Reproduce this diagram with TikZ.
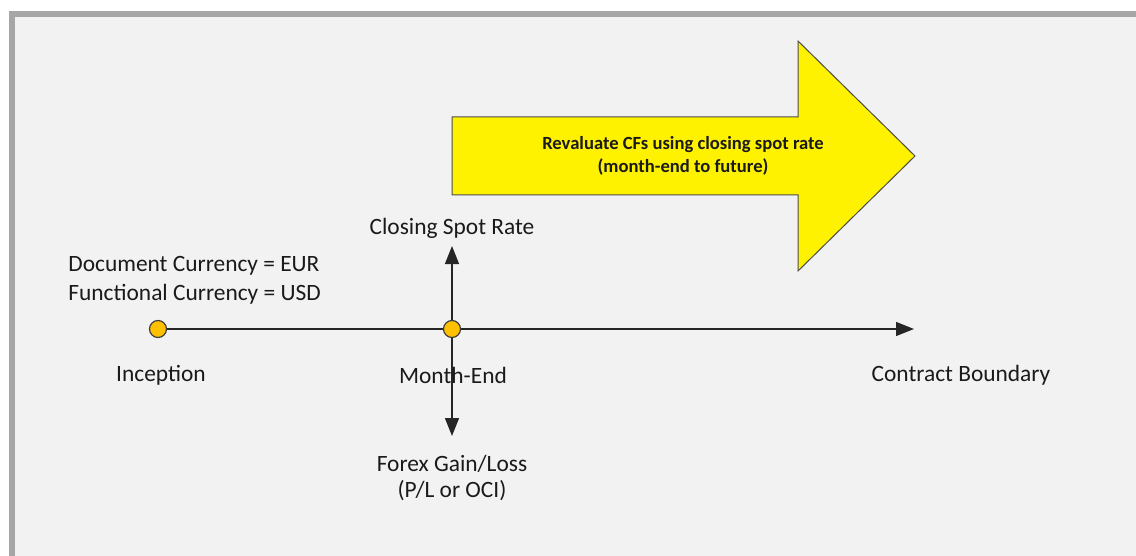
\documentclass[tikz,border=0pt]{standalone}
\usepackage{fontspec}
\setmainfont{Carlito}
\usetikzlibrary{arrows.meta}
\definecolor{framegray}{HTML}{A6A6A6}
\definecolor{panel}{HTML}{F2F2F2}
\definecolor{dotfill}{HTML}{FFC000}
\definecolor{txt}{HTML}{1A1A1A}
\tikzset{
  lbl/.style={font=\fontsize{11.7}{13}\selectfont, text=txt, inner sep=0pt},
  dot/.style={circle, draw=black!75, fill=dotfill, line width=0.6pt, minimum size=8.5pt, inner sep=0pt},
  conn/.style={line width=0.6pt, draw=black!85, -{Triangle[length=9pt,width=7pt]}},
  bigarrow/.style={draw=black!70, fill=yellow, line width=0.5pt, line join=miter}
}
\begin{document}
\begin{tikzpicture}[x=0.5pt,y=-0.5pt]
\useasboundingbox (0,0) rectangle (1136,556);
\fill[white] (0,0) rectangle (1136,556);
\filldraw[fill=panel, draw=framegray, line width=3pt] (11.5,14) rectangle (1150,570);
% big arrow
\draw[bigarrow] (452,117) -- (798,117) -- (798,41) -- (915,156) -- (798,271) -- (798,195) -- (452,195) -- cycle;
\node[font=\bfseries\fontsize{9.3}{11.5}\selectfont, align=center, inner sep=0pt, text=txt] (rev) at (683,156) {Revaluate CFs using closing spot rate\\(month-end to future)};
% timeline
\node[dot] (inc) at (158,329) {};
\node[dot] (me) at (452,329) {};
\coordinate (cb) at (914,329);
\coordinate (up) at (452,246);
\coordinate (down) at (452,436);
\draw[line width=0.6pt, draw=black!85] (inc) -- (me);
\draw[conn] (me) -- (cb);
\draw[conn] (me) -- (up);
\draw[conn] (me) -- (down);
% labels
\node[lbl] (csr) at (452,228) {Closing Spot Rate};
\node[lbl, anchor=west] (doc) at (68,266) {Document Currency = EUR};
\node[lbl, anchor=west] (fun) at (68,294) {Functional Currency = USD};
\node[lbl] (incl) at (161,375) {Inception};
\node[lbl] (mel) at (453,375) {Month-End};
\node[lbl] (cbl) at (961,375) {Contract Boundary};
\node[lbl] (fx) at (452,464) {Forex Gain/Loss};
\node[lbl] (pl) at (452,491) {(P/L or OCI)};
\end{tikzpicture}
\end{document}
